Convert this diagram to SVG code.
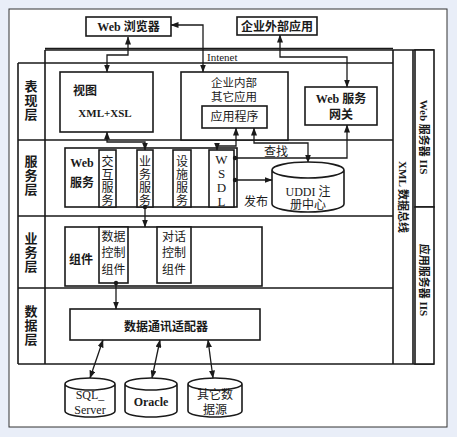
<svg xmlns="http://www.w3.org/2000/svg" width="457" height="437" viewBox="0 0 457 437">
<style>
.t{font-family:"Liberation Serif","Noto Sans CJK SC",serif;fill:#1a1a1a;}
.b{font-weight:bold;}
.box{fill:#fff;stroke:#1a1a1a;stroke-width:1.6;}
.ln{fill:none;stroke:#1a1a1a;stroke-width:1.6;}
.c{fill:none;stroke:#1a1a1a;stroke-width:1.3;}
</style>
<defs>
<marker id="a" markerUnits="userSpaceOnUse" markerWidth="8" markerHeight="6" refX="7.5" refY="3" orient="auto-start-reverse"><path d="M0,0 L8,3 L0,6 z" fill="#1a1a1a"/></marker>
<marker id="d" markerUnits="userSpaceOnUse" markerWidth="6" markerHeight="6" refX="3" refY="3"><circle cx="3" cy="3" r="2.2" fill="#1a1a1a"/></marker>
</defs>
<rect x="0" y="0" width="457" height="437" fill="#e9eef8"/>
<rect x="9" y="9" width="438" height="418" fill="#fff" stroke="#333" stroke-width="1"/>

<g id="frame">
<path class="ln" d="M45,50 H434 M45,50 V364 M18,63 H393 M18,63 V364 M18,364 H434 M18,140 H393 M18,216 H393 M18,288 H393 M393,50 V364 M413,50 V364" />
<path class="ln" d="M45,48.5 H393" stroke-width="1"/>
<text class="t" x="207" y="61" font-size="11">Intenet</text>
</g>

<g id="layers" class="t b" font-size="13" text-anchor="middle">
<text x="31" y="91">表</text><text x="31" y="105">现</text><text x="31" y="119">层</text>
<text x="31" y="166">服</text><text x="31" y="180">务</text><text x="31" y="194">层</text>
<text x="31" y="243">业</text><text x="31" y="257">务</text><text x="31" y="271">层</text>
<text x="31" y="316">数</text><text x="31" y="330">据</text><text x="31" y="344">层</text>
</g>

<g id="xmlbus">
<text class="t b" font-size="11" transform="translate(399,197) rotate(90)" text-anchor="middle">XML 数据总线</text>
</g>
<g id="webiis">
<rect class="box" x="415" y="50" width="19" height="157"/>
<text class="t b" font-size="11" transform="translate(420,137) rotate(90)" text-anchor="middle">Web 服务器 IIS</text>
</g>
<g id="appiis">
<rect class="box" x="415" y="207" width="19" height="157"/>
<text class="t b" font-size="11" transform="translate(420,280) rotate(90)" text-anchor="middle">应用服务器 IIS</text>
</g>

<g id="browser">
<rect class="box" x="86" y="17" width="85" height="19"/>
<text class="t b" x="128.5" y="31" font-size="12" text-anchor="middle">Web 浏览器</text>
</g>
<g id="extapp">
<rect class="box" x="237" y="17" width="80" height="18"/>
<text class="t b" x="277" y="31" font-size="12" text-anchor="middle">企业外部应用</text>
</g>

<g id="view">
<rect class="box" x="60" y="72" width="93" height="60"/>
<text class="t b" x="73" y="95" font-size="12">视图</text>
<text class="t b" x="105" y="117" font-size="11" text-anchor="middle">XML+XSL</text>
</g>
<g id="intapp">
<rect class="box" x="181" y="72" width="107" height="68"/>
<text class="t" x="234" y="87" font-size="11.5" text-anchor="middle">企业内部</text>
<text class="t" x="234" y="101" font-size="11.5" text-anchor="middle">其它应用</text>
</g>
<g id="program">
<rect class="box" x="202" y="106" width="65" height="22"/>
<text class="t" x="234.5" y="121" font-size="12" text-anchor="middle">应用程序</text>
</g>
<g id="gateway">
<rect class="box" x="305" y="87" width="72" height="38"/>
<text class="t b" x="341" y="103" font-size="12" text-anchor="middle">Web 服务</text>
<text class="t b" x="341" y="119" font-size="12" text-anchor="middle">网关</text>
</g>

<g id="webservice">
<rect class="box" x="65" y="148" width="172" height="59"/>
<text class="t b" x="82" y="167" font-size="12" text-anchor="middle">Web</text>
<text class="t b" x="82" y="187" font-size="12" text-anchor="middle">服务</text>
</g>
<g id="interact" class="t" font-size="12" text-anchor="middle">
<rect class="box" x="99" y="150" width="17" height="57"/>
<text x="107.5" y="166">交</text><text x="107.5" y="179">互</text><text x="107.5" y="192">服</text><text x="107.5" y="205">务</text>
</g>
<g id="bizsvc" class="t" font-size="12" text-anchor="middle">
<rect class="box" x="137" y="150" width="16" height="57"/>
<text x="145" y="166">业</text><text x="145" y="179">务</text><text x="145" y="192">服</text><text x="145" y="205">务</text>
</g>
<g id="facsvc" class="t" font-size="12" text-anchor="middle">
<rect class="box" x="173" y="150" width="18" height="57"/>
<text x="182" y="166">设</text><text x="182" y="179">施</text><text x="182" y="192">服</text><text x="182" y="205">务</text>
</g>
<g id="wsdl" class="t" font-size="13" text-anchor="middle">
<rect class="box" x="209" y="150" width="25" height="57"/>
<text x="221.5" y="164">W</text><text x="221.5" y="178">S</text><text x="221.5" y="192">D</text><text x="221.5" y="206">L</text>
</g>

<g id="uddi">
<path class="box" d="M272,170 V204 A36,8 0 0 0 344,204 V170 A36,8 0 0 0 272,170 A36,8 0 0 0 344,170"/>
<text class="t" x="308" y="196" font-size="12" text-anchor="middle">UDDI 注</text>
<text class="t" x="308" y="209" font-size="12" text-anchor="middle">册中心</text>
</g>

<g id="bizbox">
<rect class="box" x="65" y="227" width="197" height="59"/>
<text class="t b" x="81" y="264" font-size="12" text-anchor="middle">组件</text>
</g>
<g id="datactl" class="t" font-size="12" text-anchor="middle">
<rect class="box" x="99" y="227" width="29" height="56"/>
<text x="113.5" y="241">数据</text><text x="113.5" y="257">控制</text><text x="113.5" y="274">组件</text>
</g>
<g id="dialogctl" class="t" font-size="12" text-anchor="middle">
<rect class="box" x="157" y="227" width="34" height="56"/>
<text x="174" y="241">对话</text><text x="174" y="257">控制</text><text x="174" y="274">组件</text>
</g>

<g id="adapter">
<rect class="box" x="70" y="309" width="190" height="31"/>
<text class="t b" x="166" y="331" font-size="12" text-anchor="middle">数据通讯适配器</text>
</g>

<g id="sqlserver">
<path class="box" d="M65,384 V411 A25,6 0 0 0 115,411 V384 A25,6 0 0 0 65,384 A25,6 0 0 0 115,384"/>
<text class="t" x="90" y="399" font-size="12" text-anchor="middle">SQL_</text>
<text class="t" x="90" y="414" font-size="12" text-anchor="middle">Server</text>
</g>
<g id="oracle">
<path class="box" d="M125,384 V411 A26,6 0 0 0 177,411 V384 A26,6 0 0 0 125,384 A26,6 0 0 0 177,384"/>
<text class="t b" x="151" y="406" font-size="12" text-anchor="middle">Oracle</text>
</g>
<g id="otherdb">
<path class="box" d="M188,384 V411 A27,6 0 0 0 242,411 V384 A27,6 0 0 0 188,384 A27,6 0 0 0 242,384"/>
<text class="t" x="215" y="399" font-size="12" text-anchor="middle">其它数</text>
<text class="t" x="215" y="414" font-size="12" text-anchor="middle">据源</text>
</g>

<g id="connectors">
<path class="c" d="M128,37 V55 H107 V72" marker-start="url(#a)" marker-end="url(#a)"/>
<path class="c" d="M171,25 H203 V72" marker-start="url(#a)" marker-end="url(#a)"/>
<path class="c" d="M280,35 V57 H347 V87" marker-start="url(#a)" marker-end="url(#a)"/>
<path class="c" d="M107,132 V142 H145 V150" marker-start="url(#a)" marker-end="url(#a)"/>
<path class="c" d="M145,207 V227" marker-start="url(#d)" marker-end="url(#a)"/>
<path class="c" d="M116,283 V309" marker-start="url(#d)" marker-end="url(#a)"/>
<path class="c" d="M236,128 V146 H217 V150" marker-start="url(#a)" marker-end="url(#a)"/>
<path class="c" d="M254,128 V143 H308 V162" marker-start="url(#a)" marker-end="url(#a)"/>
<path class="c" d="M235,158 H347 V125" marker-start="url(#d)" marker-end="url(#a)"/>
<circle cx="308" cy="158" r="2" fill="#1a1a1a"/>
<path class="c" d="M235,180 H272" marker-start="url(#d)" marker-end="url(#a)"/>
<path class="c" d="M103,340 L90,378" marker-start="url(#a)" marker-end="url(#a)"/>
<path class="c" d="M160,340 L152,378" marker-start="url(#a)" marker-end="url(#a)"/>
<path class="c" d="M208,340 L213,378" marker-start="url(#a)" marker-end="url(#a)"/>
<text class="t" x="276" y="156" font-size="12" text-anchor="middle">查找</text>
<text class="t" x="256" y="206" font-size="12" text-anchor="middle">发布</text>
</g>
</svg>
